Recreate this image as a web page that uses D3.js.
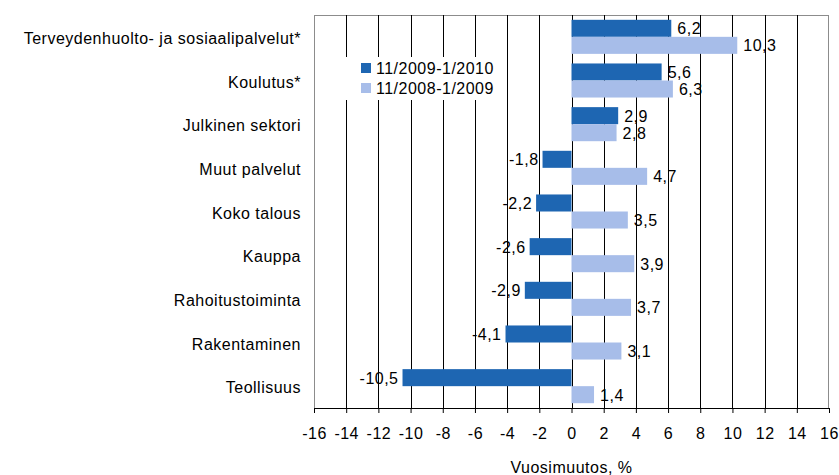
<!DOCTYPE html>
<html>
<head>
<meta charset="utf-8">
<script src="https://cdn.jsdelivr.net/npm/d3@7"></script>
<style>
  body { margin: 0; background: #fff; }
  text { font-family: "Liberation Sans", Arial, sans-serif; font-size: 16px; letter-spacing: 0.5px; fill: #000; }
</style>
</head>
<body>
<script>
// categories, top to bottom
var categories = ["Terveydenhuolto- ja sosiaalipalvelut*", "Koulutus*", "Julkinen sektori",
  "Muut palvelut", "Koko talous", "Kauppa", "Rahoitustoiminta", "Rakentaminen", "Teollisuus"];
var seriesNames = ["11/2009-1/2010", "11/2008-1/2009"];
var values2010 = [6.2, 5.6, 2.9, -1.8, -2.2, -2.6, -2.9, -4.1, -10.5];
var values2009 = [10.3, 6.3, 2.8, 4.7, 3.5, 3.9, 3.7, 3.1, 1.4];
var tickValues = [-16, -14, -12, -10, -8, -6, -4, -2, 0, 2, 4, 6, 8, 10, 12, 14, 16];
var colors = ["#1e66b2", "#a7bde9"];

var width = 839, height = 475;
var plotLeft = 314, plotRight = 829, plotTop = 15, plotBottom = 408;

var svg = d3.select("body").append("svg")
    .attr("width", width)
    .attr("height", height);

var x = d3.scaleLinear().domain([-16, 16]).range([plotLeft, plotRight]);
var y = d3.scaleBand().domain(categories).range([plotTop, plotBottom])
    .paddingInner(0.22).paddingOuter(0.11);
var y1 = d3.scaleBand().domain([0, 1]).range([0, y.bandwidth()]);

// frame
svg.append("rect")
    .attr("x", plotLeft + 0.5).attr("y", plotTop + 0.5)
    .attr("width", plotRight - plotLeft - 1).attr("height", plotBottom - plotTop)
    .attr("fill", "none").attr("stroke", "#8c8c8c");

// gridlines
svg.append("g").selectAll("line")
    .data(tickValues.filter(function(d) { return d > -16 && d < 16; }))
  .enter().append("line")
    .attr("x1", function(d) { return Math.round(x(d)) + 0.5; })
    .attr("x2", function(d) { return Math.round(x(d)) + 0.5; })
    .attr("y1", plotTop)
    .attr("y2", plotBottom)
    .attr("stroke", "#000");

// legend background (covers the gridlines)
var legend = svg.append("g");
legend.append("rect")
    .attr("x", 340).attr("y", 57).attr("width", 162).attr("height", 43)
    .attr("fill", "#fff");
seriesNames.forEach(function(name, i) {
  legend.append("rect")
      .attr("x", 361).attr("y", 63 + i * 20).attr("width", 10).attr("height", 10)
      .attr("fill", colors[i]);
  legend.append("text")
      .attr("x", 376).attr("y", 74 + i * 20)
      .text(name);
});

var rows = categories.map(function(c, i) { return [values2010[i], values2009[i]]; });

var groups = svg.append("g").selectAll("g")
    .data(rows)
  .enter().append("g")
    .attr("transform", function(d, i) { return "translate(0," + y(categories[i]) + ")"; });

groups.selectAll("rect")
    .data(function(d) { return d; })
  .enter().append("rect")
    .attr("x", function(d) { return x(Math.min(0, d)); })
    .attr("y", function(d, j) { return y1(j); })
    .attr("width", function(d) { return Math.abs(x(d) - x(0)); })
    .attr("height", y1.bandwidth())
    .attr("fill", function(d, j) { return colors[j]; });

groups.selectAll("text")
    .data(function(d) { return d; })
  .enter().append("text")
    .attr("x", function(d) { return d < 0 ? x(d) - 4 : x(d) + 6; })
    .attr("y", function(d, j) { return y1(j) + y1.bandwidth() / 2 + 6; })
    .attr("text-anchor", function(d) { return d < 0 ? "end" : "start"; })
    .text(function(d) { return String(d).replace(".", ","); });

// category labels
svg.append("g").selectAll("text")
    .data(categories)
  .enter().append("text")
    .attr("x", 301)
    .attr("y", function(d) { return y(d) + y.bandwidth() / 2 + 7; })
    .attr("text-anchor", "end")
    .text(function(d) { return d; });

// x axis
var xAxis = svg.append("g")
    .attr("transform", "translate(0," + plotBottom + ")")
    .call(d3.axisBottom(x).tickValues(tickValues).tickSize(5).tickPadding(15)
      .tickFormat(function(d) { return d; }));
xAxis.select(".domain").attr("stroke", "#000").attr("d", "M" + plotLeft + ",0.5H" + plotRight);
xAxis.selectAll(".tick line").attr("stroke", "#000");
xAxis.attr("font-family", null).attr("font-size", null);

svg.append("text")
    .attr("x", x(0))
    .attr("y", 473)
    .attr("text-anchor", "middle")
    .text("Vuosimuutos, %");
</script>
</body>
</html>
